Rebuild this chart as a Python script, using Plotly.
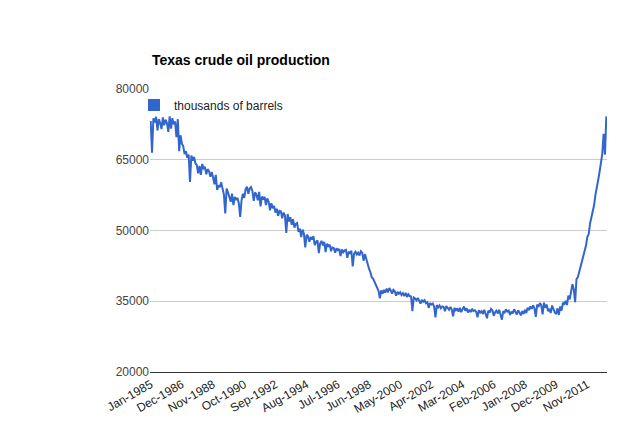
import plotly.graph_objects as go

months = ["Jan","Feb","Mar","Apr","May","Jun","Jul","Aug","Sep","Oct","Nov","Dec"]
start_year = 1985
production = [
73200, 66500, 73800, 72900, 74100, 71200, 73600, 72800, 71500, 74000, 72300, 73500,
72800, 70900, 74200, 71600, 73800, 72500, 73100, 69800, 73600, 66800, 70200, 68400,
67900, 66200, 66800, 65400, 66100, 60300, 65900, 64800, 65600, 64200, 63900, 62100,
63700, 61800, 64100, 63200, 63500, 61900, 63000, 62600, 61400, 62400, 61300, 59800,
61800, 58600, 59600, 59200, 60200, 58700, 57600, 53600, 58900, 58100, 57200, 56100,
57800, 55400, 57100, 56600, 56900, 55800, 52900, 56400, 57800, 56900, 58800, 59300,
57800, 58900, 59200, 58400, 56300, 58100, 57600, 56400, 58200, 55100, 57200, 56800,
57100, 55400, 56800, 56100, 54300, 55800, 54700, 55200, 53800, 54600, 53100, 54200,
54100, 52600, 53800, 53200, 49500, 53500, 51900, 52800, 51200, 52400, 50600, 51400,
51600, 49700, 50400, 48600, 50200, 49300, 46400, 49100, 48800, 47600, 48600, 48100,
48800, 46900, 47600, 47900, 45200, 47300, 47800, 46800, 47600, 45400, 47200, 46700,
47000, 45600, 46400, 46300, 45300, 46200, 45800, 46100, 44600, 46000, 45400, 45800,
45900, 44200, 45500, 45200, 45700, 42400, 45100, 45500, 44900, 45300, 44700, 45600,
45300, 43600, 45000, 43800, 42600, 41900, 41200, 40100, 39800, 39100, 38300, 37600,
37200, 35600, 37300, 36600, 37400, 36800, 37700, 36900, 37800, 37300, 36600, 37400,
37100, 36200, 37000, 36600, 36900, 36300, 36700, 36100, 36800, 35900, 36500, 36100,
36000, 32900, 35800, 35600, 35200, 35700, 35100, 34500, 35300, 34900, 35200, 34600,
34800, 33600, 34600, 34300, 34500, 33900, 31600, 34200, 33700, 34100, 33500, 33900,
33800, 32900, 34000, 33500, 33200, 33800, 33300, 31800, 33600, 33100, 33500, 32800,
33600, 32700, 33400, 33900, 33000, 33500, 32600, 33200, 32700, 33400, 32900, 33100,
32800, 31600, 33100, 32600, 32900, 32300, 33200, 32500, 31400, 33000, 32600, 33400,
33100, 31900, 32700, 33000, 32400, 33200, 32300, 31100, 32900, 32600, 33300, 32800,
33000, 32100, 32800, 32400, 33300, 32600, 32200, 33100, 32500, 32000, 32900, 32300,
33200, 32500, 33600, 33100, 33900, 33400, 34100, 33500, 31700, 34300, 33800, 34600,
34200, 32200, 34700, 33600, 34300, 32900, 33400, 32500, 34100, 33200, 32600, 32300,
33500, 32100, 33900, 33000, 34700, 34300, 35100, 34200, 36200, 35400, 37300, 38600,
37500, 34800, 39700, 40100, 41200, 42300, 43500, 44200, 45400, 46800, 48600, 49200,
51500, 52800, 54200, 55400, 57600, 58900, 60700, 62400, 64100, 66200, 70500, 66100,
74200,
]
labels = [f"{months[i % 12]}-{start_year + i // 12}" for i in range(len(production))]
tick_labels = labels[::23]
y_ticks = [20000, 35000, 50000, 65000, 80000]

fig = go.Figure()
fig.add_trace(go.Scatter(x=labels, y=production, mode="lines",
                         line=dict(color="#3366cc", width=2), showlegend=False))
fig.add_trace(go.Scatter(x=[labels[0]], y=[None], mode="markers", name="thousands of barrels",
                         marker=dict(symbol="square", size=12, color="#3366cc")))
fig.update_layout(
    width=635, height=438,
    margin=dict(l=142, r=36, t=81, b=74),
    paper_bgcolor="white", plot_bgcolor="white",
    font=dict(family="Arial, Liberation Sans", size=12, color="#444"),
    title=dict(text="<b>Texas crude oil production</b>", x=144/635, xanchor="left",
               y=1-52/438, yanchor="middle", font=dict(size=14, color="black")),
    legend=dict(x=-0.035, y=0.995, xanchor="left", yanchor="top", bgcolor="rgba(0,0,0,0)",
                font=dict(size=12, color="#222"), itemwidth=30),
    xaxis=dict(type="category", tickmode="array", tickvals=tick_labels, ticktext=tick_labels,
               tickangle=-30, showgrid=False, showline=True, linecolor="#333",
               ticks="", range=[-0.5, len(production) - 0.5], tickfont=dict(size=12, color="#222")),
    yaxis=dict(range=[20000, 80000], tickvals=y_ticks, tickformat="d", showgrid=True, gridcolor="#ccc",
               zeroline=False, ticks="", tickfont=dict(size=12, color="#444")),
)
fig.write_html("out.html")
